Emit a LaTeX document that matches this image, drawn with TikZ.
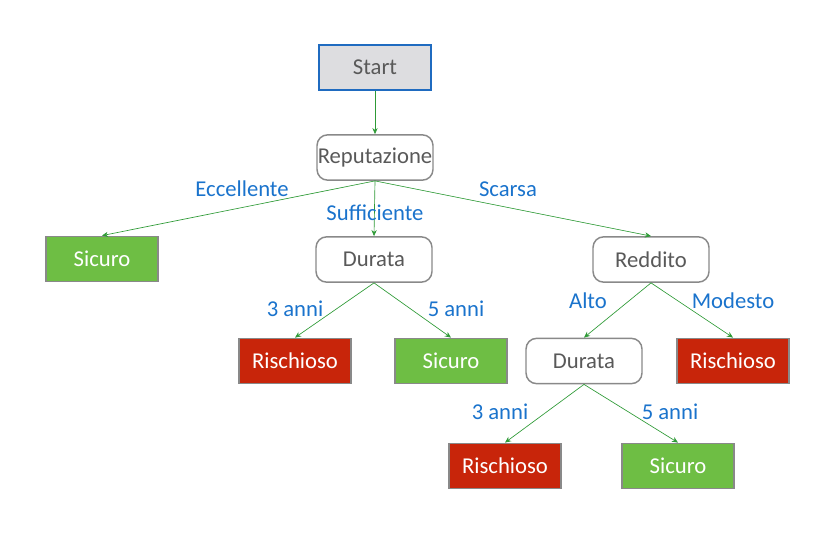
\documentclass[tikz,border=0pt]{standalone}
\usepackage{fontspec}
\setmainfont{Carlito}
\usetikzlibrary{arrows.meta, positioning}

\definecolor{boxgray}{HTML}{898989}
\definecolor{txtgray}{HTML}{595959}
\definecolor{startfill}{HTML}{DDDDE0}
\definecolor{startblue}{HTML}{1F6BC0}
\definecolor{leafgreen}{HTML}{6EBE44}
\definecolor{leafred}{HTML}{C8250A}
\definecolor{edgegreen}{HTML}{2E9A36}
\definecolor{lblblue}{HTML}{1A73CC}

\begin{document}
\begin{tikzpicture}[
  x=0.75pt, y=-0.75pt,
  font=\fontsize{17}{19}\selectfont,
  startbox/.style={draw=startblue, line width=1.4pt, fill=startfill, text=txtgray, minimum width=84pt, minimum height=34pt, inner sep=0pt},
  attr/.style={draw=boxgray, line width=1.1pt, rounded corners=8pt, fill=white, text=txtgray, minimum width=87pt, minimum height=34pt, inner sep=0pt},
  safe/.style={draw=boxgray, line width=1.1pt, fill=leafgreen, text=white, minimum width=84pt, minimum height=34pt, inner sep=0pt},
  risky/.style={draw=boxgray, line width=1.1pt, fill=leafred, text=white, minimum width=84pt, minimum height=34pt, inner sep=0pt},
  arr/.style={-{Stealth[length=1.6mm, width=1.4mm]}, draw=edgegreen, line width=0.5pt},
  lbl/.style={text=lblblue, font=\fontsize{17}{19}\selectfont, inner sep=1pt},
]
\useasboundingbox (0,0) rectangle (818,549);

% ---- root
\node[startbox] (start) at (375,67.5) {Start};
\node[attr] (rep) at (375,157.5) {Reputazione};
\draw[arr] (start) -- (rep);

% ---- first level
\node[safe] (sicuro1) at (102,259) {Sicuro};
\node[attr] (durata1) at (374,259.5) {Durata};
\node[attr] (reddito) at (651,259.5) {Reddito};
\draw[arr] (rep.south) -- (sicuro1.north);
\draw[arr] (rep.south) -- (durata1.north);
\draw[arr] (rep.south) -- (reddito.north);
\node[lbl] (l-ecc) at (242,189) {Eccellente};
\node[lbl] (l-suf) at (375,213) {Sufficiente};
\node[lbl] (l-sca) at (508,189) {Scarsa};

% ---- second level
\node[risky] (risch1) at (295,361) {Rischioso};
\node[safe] (sicuro2) at (451,361) {Sicuro};
\node[attr] (durata2) at (584,361) {Durata};
\node[risky] (risch2) at (733,361) {Rischioso};
\draw[arr] (durata1.south) -- (risch1.north);
\draw[arr] (durata1.south) -- (sicuro2.north);
\draw[arr] (reddito.south) -- (durata2.north);
\draw[arr] (reddito.south) -- (risch2.north);
\node[lbl] (l-3a) at (295,309) {3 anni};
\node[lbl] (l-5a) at (456,309) {5 anni};
\node[lbl] (l-alto) at (588,301) {Alto};
\node[lbl] (l-mod) at (733,301) {Modesto};

% ---- third level
\node[risky] (risch3) at (505,466) {Rischioso};
\node[safe] (sicuro3) at (678,466) {Sicuro};
\draw[arr] (durata2.south) -- (risch3.north);
\draw[arr] (durata2.south) -- (sicuro3.north);
\node[lbl] (l-3b) at (500,412) {3 anni};
\node[lbl] (l-5b) at (670,412) {5 anni};
\end{tikzpicture}
\end{document}
